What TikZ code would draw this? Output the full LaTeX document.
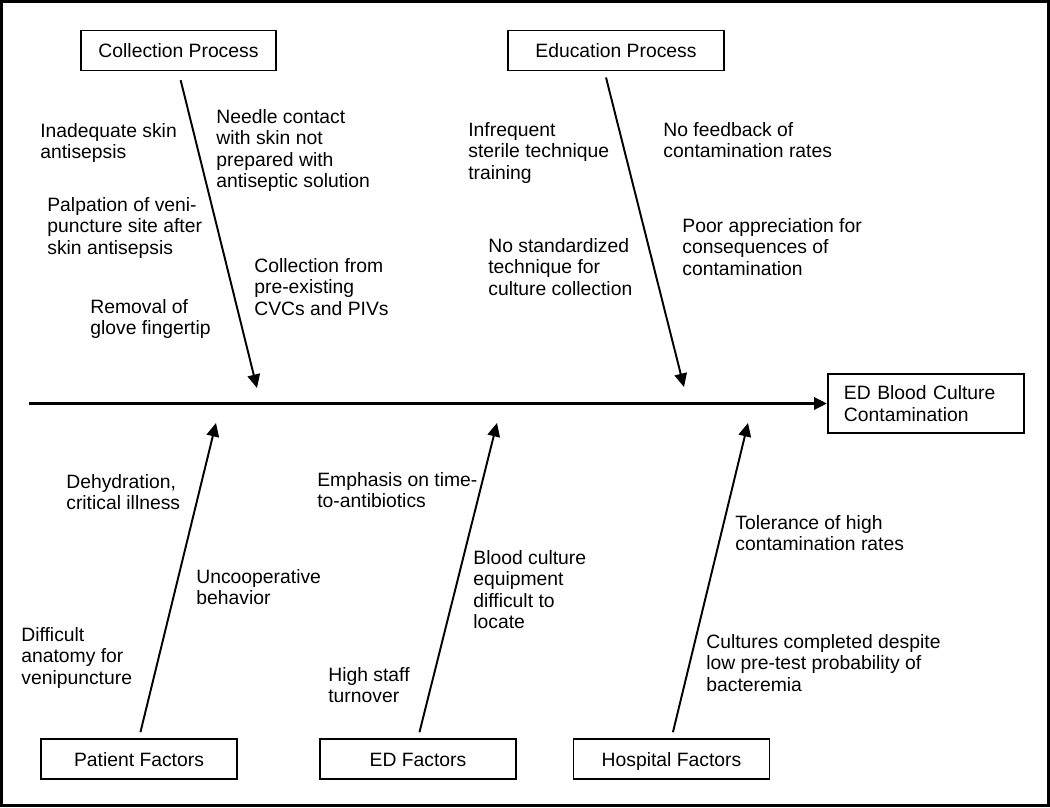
\documentclass[tikz,border=0pt]{standalone}
\usepackage{fontspec}
\setmainfont{Liberation Sans}
\usepackage{tikz}
\usetikzlibrary{arrows.meta}
\usetikzlibrary{positioning, calc}
\tikzset{
    cat_box/.style = {draw=black, line width=1.1pt, inner sep=0pt,
        minimum width=3.92cm, minimum height=0.8cm, text centered,
        text height=8pt, text depth=0pt},
    cause_text/.style = {anchor=north west, inner sep=0pt, align=left},
    bone/.style = {-{Triangle[length=2.7mm, width=2.5mm]}, line width=1.1pt},
}

\begin{document}
\begin{tikzpicture}[x=0.02cm, y=-0.02cm, font=\fontsize{11}{12.2}\selectfont]
            \useasboundingbox (0,0) rectangle (1050,807);
            \draw[line width=1.3pt] (1.5,1.5) rectangle (1048.5,805.5);
            \node[cat_box, minimum width=3.9cm] (coll) at (178.5,50.5) {Collection Process};
            \node[cat_box, minimum width=4.32cm] (edu) at (616,50.5) {Education Process};
            \node[cat_box] (pat) at (139,759) {Patient Factors};
            \node[cat_box] (edf) at (418,759) {ED Factors};
            \node[cat_box] (hosp) at (671.5,759) {Hospital Factors};
            \node[draw=black, line width=1.1pt, anchor=west, minimum height=1.18cm, align=left,
                text width=3.28cm, inner xsep=0.32cm, inner ysep=0pt] (eff) at (827,403.5)
                {ED Blood Culture\\Contamination};
            \coordinate (spine_start) at (29,403.5);
            \coordinate (coll_head) at (257,388);
            \coordinate (edu_head) at (684,387);
            \coordinate (pat_head) at (216,423);
            \coordinate (edf_head) at (497,423);
            \coordinate (hosp_head) at (748,423);
            \draw[bone, line width=2pt, -{Triangle[length=2.6mm, width=2.4mm]}] (spine_start) -- (eff.west);
            \draw[bone, shorten <=0.18cm] (coll.south) -- (coll_head);
            \draw[bone] ([xshift=-0.2cm, yshift=-0.12cm]edu.south) -- (edu_head);
            \draw[bone, shorten <=0.12cm] (pat.north) -- (pat_head);
            \draw[bone, shorten <=0.12cm] (edf.north) -- (edf_head);
            \draw[bone, shorten <=0.12cm] (hosp.north) -- (hosp_head);
            % causes above the spine
            \node[cause_text] (inad) at (40,123) {Inadequate skin\\antisepsis};
            \node[cause_text] (needle) at (216,109) {Needle contact\\with skin not\\prepared with\\antiseptic solution};
            \node[cause_text] (palp) at (47,197) {Palpation of veni-\\puncture site after\\skin antisepsis};
            \node[cause_text] (cvc) at (254,258) {Collection from\\pre-existing\\CVCs and PIVs};
            \node[cause_text] (glove) at (90,299) {Removal of\\glove fingertip};
            \node[cause_text] (infreq) at (468,122) {Infrequent\\sterile technique\\training};
            \node[cause_text] (feedback) at (663,122) {No feedback of\\contamination rates};
            \node[cause_text] (nostd) at (488,238) {No standardized\\technique for\\culture collection};
            \node[cause_text] (poor) at (682,218) {Poor appreciation for\\consequences of\\contamination};
            % causes below the spine
            \node[cause_text] (dehyd) at (66,474) {Dehydration,\\critical illness};
            \node[cause_text] (uncoop) at (196,569) {Uncooperative\\behavior};
            \node[cause_text] (anat) at (21,627) {Difficult\\anatomy for\\venipuncture};
            \node[cause_text] (tta) at (317,472) {Emphasis on time-\\to-antibiotics};
            \node[cause_text] (staff) at (328,667) {High staff\\turnover};
            \node[cause_text] (equip) at (473,550) {Blood culture\\equipment\\difficult to\\locate};
            \node[cause_text] (toler) at (735,515) {Tolerance of high\\contamination rates};
            \node[cause_text] (pretest) at (706,634) {Cultures completed despite\\low pre-test probability of\\bacteremia};
\end{tikzpicture}
\end{document}
